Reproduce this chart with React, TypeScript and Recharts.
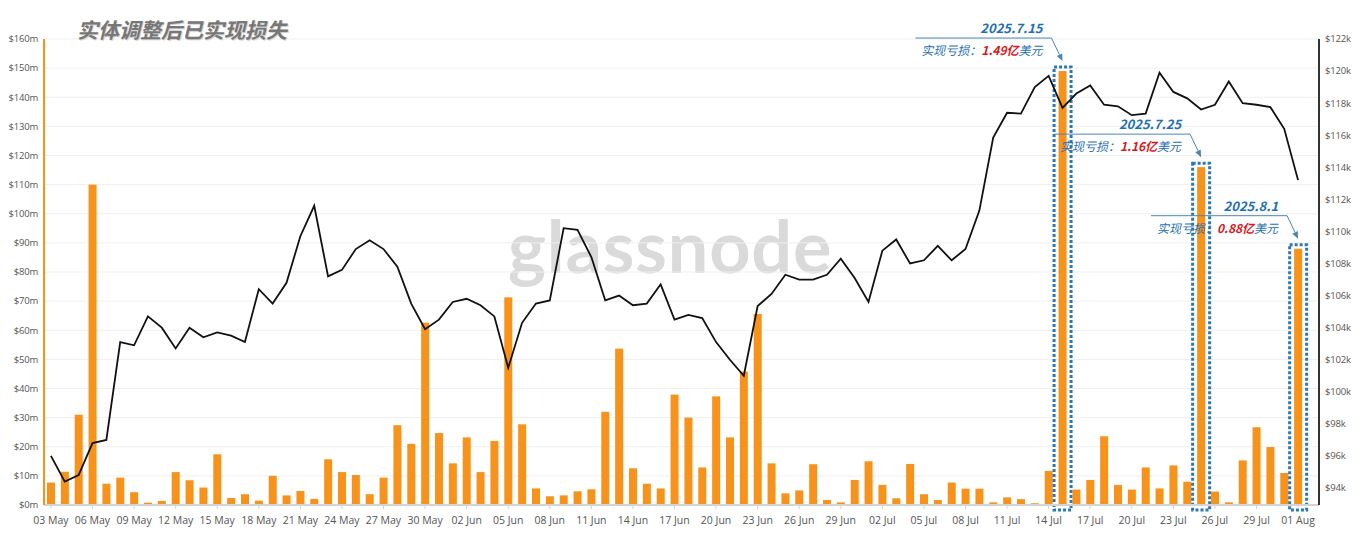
import { ComposedChart, Bar, Line, XAxis, YAxis, CartesianGrid, ReferenceDot } from 'recharts'

const dates = [
  '03 May', '04 May', '05 May', '06 May', '07 May', '08 May', '09 May', '10 May', '11 May', '12 May',
  '13 May', '14 May', '15 May', '16 May', '17 May', '18 May', '19 May', '20 May', '21 May', '22 May',
  '23 May', '24 May', '25 May', '26 May', '27 May', '28 May', '29 May', '30 May', '31 May',
  '01 Jun', '02 Jun', '03 Jun', '04 Jun', '05 Jun', '06 Jun', '07 Jun', '08 Jun', '09 Jun', '10 Jun',
  '11 Jun', '12 Jun', '13 Jun', '14 Jun', '15 Jun', '16 Jun', '17 Jun', '18 Jun', '19 Jun', '20 Jun',
  '21 Jun', '22 Jun', '23 Jun', '24 Jun', '25 Jun', '26 Jun', '27 Jun', '28 Jun', '29 Jun', '30 Jun',
  '01 Jul', '02 Jul', '03 Jul', '04 Jul', '05 Jul', '06 Jul', '07 Jul', '08 Jul', '09 Jul', '10 Jul',
  '11 Jul', '12 Jul', '13 Jul', '14 Jul', '15 Jul', '16 Jul', '17 Jul', '18 Jul', '19 Jul', '20 Jul',
  '21 Jul', '22 Jul', '23 Jul', '24 Jul', '25 Jul', '26 Jul', '27 Jul', '28 Jul', '29 Jul', '30 Jul',
  '31 Jul', '01 Aug',
]

const xTicks = [
  '03 May', '06 May', '09 May', '12 May', '15 May', '18 May', '21 May', '24 May', '27 May', '30 May',
  '02 Jun', '05 Jun', '08 Jun', '11 Jun', '14 Jun', '17 Jun', '20 Jun', '23 Jun', '26 Jun', '29 Jun',
  '02 Jul', '05 Jul', '08 Jul', '11 Jul', '14 Jul', '17 Jul', '20 Jul', '23 Jul', '26 Jul', '29 Jul',
  '01 Aug',
]

// entity-adjusted realized loss, $m
const lossM = [
  7.7, 11.4, 31, 110, 7.3, 9.4, 4.4, 0.8, 1.4, 11.3,
  8.5, 6, 17.4, 2.4, 3.7, 1.5, 10, 3.3, 4.8, 2.1,
  15.7, 11.3, 10.3, 3.7, 9.4, 27.4, 21, 62.6, 24.7,
  14.3, 23.2, 11.3, 22, 71.3, 27.7, 5.7, 3, 3.3, 4.7,
  5.4, 32, 53.7, 12.6, 7.3, 5.7, 37.9, 30, 12.9, 37.3,
  23.2, 45.8, 65.6, 14.3, 4, 5, 14, 1.7, 0.9, 8.6,
  15, 6.9, 2.3, 14.1, 3.7, 1.7, 7.7, 5.6, 5.6, 0.9,
  2.6, 2, 0.6, 11.7, 149, 5.3, 8.6, 23.6, 6.9, 5.3,
  12.9, 5.7, 13.6, 8, 116, 4.6, 0.9, 15.3, 26.7, 19.9,
  11, 88,
]

// BTC price, $k
const priceK = [
  96.0, 94.4, 94.8, 96.8, 97.0, 103.1, 102.9, 104.7, 104.0, 102.7,
  104.0, 103.4, 103.7, 103.5, 103.1, 106.4, 105.5, 106.8, 109.7, 111.6,
  107.2, 107.6, 108.9, 109.45, 108.9, 107.8, 105.5, 103.9, 104.5,
  105.6, 105.8, 105.4, 104.7, 101.5, 104.3, 105.5, 105.7, 110.2, 110.1,
  108.4, 105.7, 106.0, 105.4, 105.5, 106.7, 104.5, 104.8, 104.6, 103.1,
  102.0, 101.0, 105.35, 106.1, 107.3, 107.0, 107.0, 107.3, 108.3, 107.1,
  105.6, 108.8, 109.5, 108.0, 108.2, 109.1, 108.2, 108.9, 111.3, 115.85,
  117.4, 117.35, 119.0, 119.7, 117.7, 118.6, 119.1, 117.9, 117.8, 117.25,
  117.35, 119.9, 118.7, 118.3, 117.6, 117.9, 119.35, 118.0, 117.9, 117.75,
  116.4, 113.2,
]

const leftTicks = [0, 10, 20, 30, 40, 50, 60, 70, 80, 90, 100, 110, 120, 130, 140, 150, 160]
const rightTicks = [94, 96, 98, 100, 102, 104, 106, 108, 110, 112, 114, 116, 118, 120, 122]

const callouts = [
  { date: '15 Jul', title: '2025.7.15', amount: '1.49亿' },
  { date: '25 Jul', title: '2025.7.25', amount: '1.16亿' },
  { date: '01 Aug', title: '2025.8.1', amount: '0.88亿' },
]

const data = dates.map((d, i) => ({ date: d, loss: lossM[i], price: priceK[i] }))
const highlighted = new Set(callouts.map(c => c.date))

const ORANGE = '#f7931a'
const BLUE = '#1f6fb2'
const CJK = '"Noto Sans CJK SC", "Noto Sans", sans-serif'

function LossBar(props: any) {
  const { x, y, width, height, payload } = props
  if (height == null || height <= 0) return null
  return (
    <g>
      <rect x={x} y={y} width={width} height={height} fill={ORANGE} />
      {highlighted.has(payload.date) && (
        <rect
          x={x - 4.5}
          y={y - 4}
          width={width + 9}
          height={height + 9}
          fill="none"
          stroke="#2a78b8"
          strokeWidth={3}
          strokeDasharray="3 2"
        />
      )}
    </g>
  )
}

function makeCallout(title: string, amount: string) {
  return (props: any) => {
    const { cx, cy } = props
    const tipX = cx
    const tipY = cy - 10
    const elbowX = cx - 11
    const elbowY = cy - 33
    const dx = tipX - elbowX
    const dy = tipY - elbowY
    const len = Math.sqrt(dx * dx + dy * dy)
    const ux = dx / len
    const uy = dy / len
    const bx = tipX - ux * 7
    const by = tipY - uy * 7
    const head = `${tipX},${tipY} ${bx - uy * 3},${by + ux * 3} ${bx + uy * 3},${by - ux * 3}`
    return (
      <g>
        <polyline
          points={`${cx - 147},${elbowY} ${elbowX},${elbowY} ${bx},${by}`}
          fill="none"
          stroke="#4a86b4"
          strokeWidth={1}
        />
        <polygon points={head} fill="#4a86b4" />
        <text
          x={cx - 20}
          y={cy - 38}
          textAnchor="end"
          fontSize={13}
          fontWeight={700}
          fontStyle="italic"
          fill={BLUE}
          fontFamily={CJK}
        >
          {title}
        </text>
        <text x={cx - 20} y={cy - 16} textAnchor="end" fontSize={12} fontStyle="italic" fontFamily={CJK} fill={BLUE}>
          <tspan>实现亏损：</tspan>
          <tspan fill="#d7191f" fontWeight={700}>{amount}</tspan>
          <tspan>美元</tspan>
        </text>
      </g>
    )
  }
}

export default function App() {
  return (
    <div style={{ position: 'relative', width: 1363, height: 544, margin: -8, background: '#fff', overflow: 'hidden' }}>
      <div
        style={{
          position: 'absolute',
          left: 508,
          top: 209,
          fontFamily: 'Lato, sans-serif',
          fontSize: 72,
          fontWeight: 700,
          color: '#dadada',
          letterSpacing: 0.8,
          lineHeight: 1,
        }}
      >
        glassnode
      </div>
      <div
        style={{
          position: 'absolute',
          left: 77,
          top: 17,
          fontFamily: CJK,
          fontSize: 21,
          fontWeight: 700,
          fontStyle: 'italic',
          color: '#777',
          textShadow: '1px 1px 1px #cfcfcf',
          lineHeight: 1.2,
          zIndex: 2,
        }}
      >
        实体调整后已实现损失
      </div>
      <div style={{ position: 'absolute', left: 0, top: 0 }}>
        <ComposedChart
          width={1363}
          height={544}
          data={data}
          margin={{ top: 39, right: 0, bottom: 0, left: 0 }}
          style={{ fontFamily: '"Open Sans", sans-serif' }}
        >
          <CartesianGrid yAxisId="left" vertical={false} stroke="#efefef" />
          <XAxis
            dataKey="date"
            ticks={xTicks}
            interval={0}
            height={39}
            padding={{ left: 0, right: 14 }}
            axisLine={{ stroke: '#d4d4d4', strokeWidth: 2 }}
            tickLine={{ stroke: '#d4d4d4' }}
            tickSize={4}
            tickMargin={8}
            tick={{ fill: '#555', fontSize: 10.5 }}
          />
          <YAxis
            yAxisId="left"
            orientation="left"
            width={44}
            domain={[0, 160]}
            ticks={leftTicks}
            tickFormatter={(v: number) => `$${v}m`}
            axisLine={{ stroke: ORANGE, strokeWidth: 2 }}
            tickLine={false}
            tickSize={4}
            tickMargin={2}
            tick={{ fill: '#555', fontSize: 9.5, letterSpacing: -0.2 }}
          />
          <YAxis
            yAxisId="right"
            orientation="right"
            width={44}
            domain={[92.94, 122]}
            ticks={rightTicks}
            tickFormatter={(v: number) => `$${v}k`}
            axisLine={{ stroke: '#333', strokeWidth: 2 }}
            tickLine={false}
            tickSize={4}
            tickMargin={2}
            tick={{ fill: '#555', fontSize: 9.5, letterSpacing: -0.2 }}
          />
          <Bar yAxisId="left" dataKey="loss" barSize={8} shape={LossBar} isAnimationActive={false} />
          <Line
            yAxisId="right"
            dataKey="price"
            type="linear"
            stroke="#111"
            strokeWidth={1.8}
            dot={false}
            activeDot={false}
            isAnimationActive={false}
          />
          {callouts.map(c => (
            <ReferenceDot
              key={c.date}
              yAxisId="left"
              x={c.date}
              y={lossM[dates.indexOf(c.date)]}
              r={0}
              ifOverflow="visible"
              shape={makeCallout(c.title, c.amount)}
            />
          ))}
        </ComposedChart>
      </div>
    </div>
  )
}
